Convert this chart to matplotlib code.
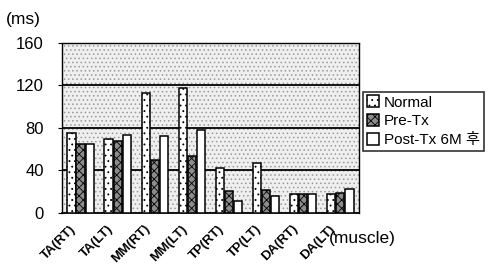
import matplotlib
matplotlib.use("Agg")
import matplotlib.pyplot as plt
import matplotlib.patches as patches
import matplotlib.transforms as mtransforms
import numpy as np

plt.rcParams['font.family'] = ['Liberation Sans', 'Noto Sans CJK KR']
plt.rcParams['hatch.linewidth'] = 0.6

muscles = ["TA(RT)", "TA(LT)", "MM(RT)", "MM(LT)", "TP(RT)", "TP(LT)", "DA(RT)", "DA(LT)"]
normal = [75, 70, 113, 118, 42, 47, 18, 18]
pre_tx = [65, 68, 50, 54, 21, 22, 18, 19]
post_tx = [65, 73, 72, 78, 11, 16, 18, 23]
series_names = ["Normal", "Pre-Tx", "Post-Tx 6M 후"]
yticks = [0, 40, 80, 120, 160]

fig = plt.figure(figsize=(4.94, 2.76), dpi=100)
ax = fig.add_axes([0.1255, 0.2283, 0.601, 0.616])

# stippled background
bg = patches.Rectangle((0, 0), 1, 1, transform=ax.transAxes, facecolor='#efefef',
                       edgecolor='#9a9a9a', hatch='....', linewidth=0, zorder=0)
ax.add_patch(bg)

x = np.arange(len(muscles))
w = 0.22
styles = [dict(facecolor='white', hatch='...'),
          dict(facecolor='#8c8c8c', hatch='xxxx'),
          dict(facecolor='white', hatch='')]
for i, vals in enumerate([normal, pre_tx, post_tx]):
    ax.bar(x + (i - 1) * 0.245, vals, w, edgecolor='black', linewidth=1.1,
           label=series_names[i], zorder=3, **styles[i])

for yv in yticks[1:-1]:
    ax.axhline(yv, color='black', linewidth=1.3, zorder=2)

ax.set_xlim(-0.5, len(muscles) - 0.5)
ax.set_ylim(0, 160)
ax.set_yticks(yticks)
ax.set_yticklabels([str(v) for v in yticks], fontsize=12)
ax.set_xticks(x)
ax.set_xticklabels(muscles, rotation=45, ha='right', rotation_mode='anchor',
                   fontsize=9.5, fontweight='bold')
ax.tick_params(axis='x', length=0, pad=7)
ax.tick_params(axis='y', length=3, pad=10)
# nudge the slanted labels a bit to the left, like the original
shift = mtransforms.ScaledTranslation(-8 / 72, 0, fig.dpi_scale_trans)
for lbl in ax.get_xticklabels():
    lbl.set_transform(lbl.get_transform() + shift)
for s in ax.spines.values():
    s.set_linestyle((0, (2, 1)))
    s.set_linewidth(1.0)
ax.spines['bottom'].set_linestyle('-')
ax.spines['bottom'].set_linewidth(1.3)

fig.text(0.012, 0.93, "(ms)", fontsize=12.5, va='center', ha='left')
fig.text(0.665, 0.135, "(muscle)", fontsize=12.5, va='center', ha='left')

leg = fig.legend(loc='upper left', bbox_to_anchor=(0.735, 0.668), fontsize=11,
                 frameon=True, fancybox=False, edgecolor='black', handlelength=0.8,
                 handleheight=0.8, handletextpad=0.3, borderpad=0.25, labelspacing=0.3,
                 borderaxespad=0)
leg.get_frame().set_linewidth(1.2)

fig.savefig("out.png", dpi=100)
